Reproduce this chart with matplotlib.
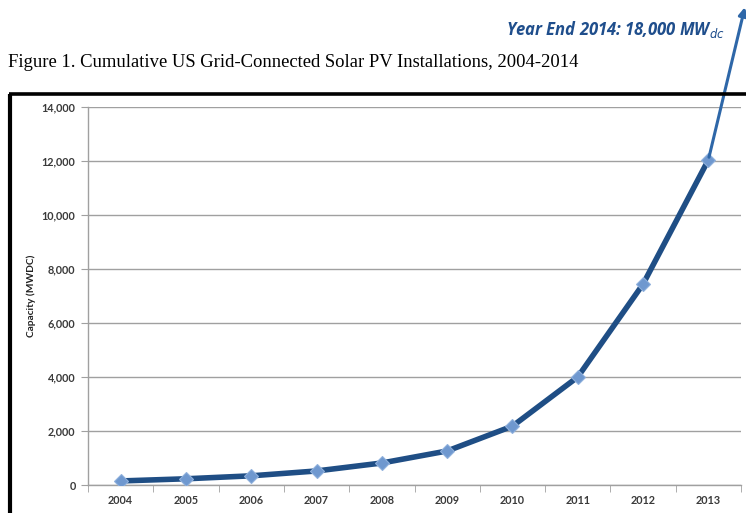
import matplotlib.pyplot as plt
from matplotlib.lines import Line2D

years = ["2004", "2005", "2006", "2007", "2008", "2009", "2010", "2011", "2012", "2013"]
capacity = [150, 230, 340, 520, 815, 1260, 2180, 4000, 7440, 12040]
yticks = [0, 2000, 4000, 6000, 8000, 10000, 12000, 14000]
end_2014 = 17800

LINE_COLOR = "#1f4e85"
MARKER_COLOR = "#6f98cf"
ARROW_COLOR = "#2e67a8"
TICK_FONT = "Lato"

fig = plt.figure(figsize=(7.46, 5.13), dpi=100)
fig.patch.set_facecolor("white")

# title above the framed chart
fig.text(8 / 746, 1 - 63 / 513, "Figure 1. Cumulative US Grid-Connected Solar PV Installations, 2004-2014",
         family="Liberation Serif", fontsize=13.4, color="black", va="center", ha="left")

# black frame (left and top edges visible)
fig.add_artist(Line2D([10 / 746, 10 / 746], [1 - 94 / 513, 0], transform=fig.transFigure,
                      color="black", lw=3, solid_capstyle="butt"))
fig.add_artist(Line2D([8.5 / 746, 1], [1 - 94 / 513, 1 - 94 / 513], transform=fig.transFigure,
                      color="black", lw=2.6, solid_capstyle="butt"))

ax = fig.add_axes([88 / 746, 1 - 485 / 513, (741 - 88) / 746, (485 - 107) / 513])
x = list(range(len(years)))
ax.plot(x, capacity, color=LINE_COLOR, lw=4, marker="D", markersize=7,
        markerfacecolor=MARKER_COLOR, markeredgecolor="#8fb0dc", markeredgewidth=0.8, zorder=3)

# arrow to the 2014 year-end value
ax.annotate("", xy=(9.57, end_2014), xytext=(x[-1], capacity[-1]),
            arrowprops=dict(arrowstyle="-|>", color=ARROW_COLOR, lw=2.2, mutation_scale=12),
            annotation_clip=False, zorder=4)
fig.text(725 / 746, 1 - 30 / 513, r"Year End 2014: 18,000 MW$_{\mathbf{\mathit{dc}}}$",
         family="Open Sans", fontsize=12, fontweight="bold", fontstyle="italic",
         color="#1f4e8c", ha="right", va="center")

ax.set_xlim(-0.5, len(years) - 0.5)
ax.set_ylim(0, 14000)
ax.set_yticks(yticks)
ax.set_yticklabels([f"{v:,}" for v in yticks])
ax.set_xticks(x)
ax.set_xticklabels(years)
ax.set_xticks([i - 0.5 for i in range(len(years) + 1)], minor=True)

ax.grid(axis="y", color="#a0a0a0", lw=1.0)
ax.set_axisbelow(True)
for side in ["top", "right"]:
    ax.spines[side].set_visible(False)
for side in ["left", "bottom"]:
    ax.spines[side].set_color("#a0a0a0")
    ax.spines[side].set_linewidth(1.0)

ax.tick_params(axis="x", which="major", length=0, pad=7)
ax.tick_params(axis="x", which="minor", length=5, color="#a0a0a0", direction="out")
ax.tick_params(axis="y", length=5, color="#a0a0a0", pad=4)
for lab in ax.get_xticklabels() + ax.get_yticklabels():
    lab.set_family(TICK_FONT)
    lab.set_fontweight("bold")
    lab.set_fontsize(7.8)
    lab.set_color("#3a3a3a")

ax.set_ylabel("Capacity (MWDC)", family=TICK_FONT, fontweight="bold", fontsize=7.3,
              color="#222222", labelpad=4)

fig.savefig("out.png", dpi=100)
